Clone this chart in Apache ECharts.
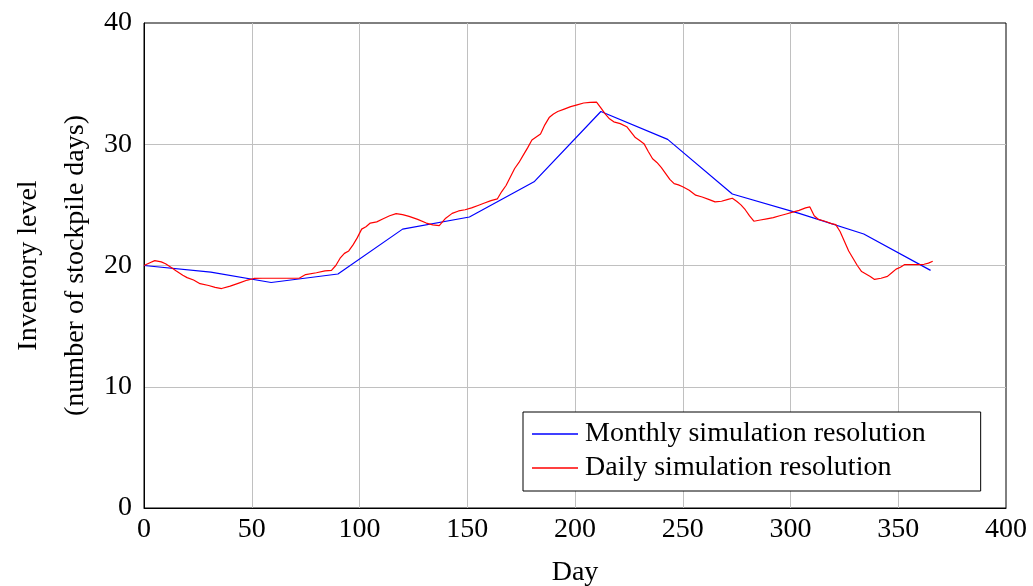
<!DOCTYPE html>
<html>
<head>
<meta charset="utf-8">
<script src="https://cdn.jsdelivr.net/npm/echarts@6/dist/echarts.min.js"></script>
<style>html,body{margin:0;padding:0;background:#fff}#c{width:1033px;height:586px}</style>
</head>
<body>
<div id="c"></div>
<script>
const monthlyDays = [0, 31, 59, 90, 120, 151, 181, 212, 243, 273, 304, 334, 365];
const monthlyVals = [20.0, 19.45, 18.6, 19.3, 23.0, 24.0, 26.9, 32.7, 30.4, 25.9, 24.3, 22.6, 19.6];

const dailyDays = [0,3,5,8,10,13,15,18,20,23,26,30,33,36,40,44,48,51,55,60,65,70,72,75,80,84,87,89,91,93,95,97,99,101,103,105,108,111,114,117,120,123,127,131,134,137,140,143,146,149,152,155,158,161,164,166,168,170,172,174,176,178,180,182,184,186,188,190,192,195,198,201,204,207,210,212,214,216,218,221,224,226,228,230,232,234,236,238,240,242,244,246,248,250,253,256,259,262,265,268,271,273,275,277,279,281,283,286,289,292,295,298,301,304,307,309,311,313,316,319,321,323,325,327,329,331,333,335,337,339,342,345,347,349,351,353,356,359,362,364,366];
const dailyVals = [20.0,20.25,20.4,20.3,20.15,19.8,19.55,19.2,19.0,18.8,18.5,18.35,18.2,18.1,18.3,18.55,18.8,18.93,18.95,18.95,18.95,18.95,18.95,19.25,19.4,19.55,19.6,20.0,20.6,21.0,21.2,21.7,22.3,23.0,23.2,23.5,23.6,23.85,24.1,24.28,24.2,24.05,23.8,23.5,23.35,23.29,23.9,24.3,24.5,24.6,24.75,24.95,25.15,25.35,25.5,26.1,26.6,27.3,28.0,28.5,29.1,29.7,30.35,30.6,30.85,31.6,32.2,32.5,32.7,32.9,33.1,33.25,33.4,33.45,33.47,33.0,32.5,32.1,31.85,31.7,31.45,31.0,30.55,30.3,30.05,29.4,28.8,28.5,28.1,27.6,27.1,26.75,26.65,26.5,26.2,25.8,25.65,25.45,25.25,25.3,25.45,25.55,25.3,25.0,24.6,24.1,23.65,23.75,23.85,23.95,24.1,24.25,24.4,24.55,24.75,24.83,24.1,23.8,23.65,23.45,23.37,22.8,22.0,21.2,20.6,20.0,19.5,19.3,19.1,18.85,18.95,19.1,19.4,19.7,19.85,20.08,20.08,20.08,20.1,20.2,20.35];

const seriesNames = ['Monthly simulation resolution', 'Daily simulation resolution'];
const xTitle = 'Day';
const yTitle = 'Inventory level\n(number of stockpile days)';

const FONT = 'Liberation Serif';
const FS = 28;
const chart = echarts.init(document.getElementById('c'), null, {renderer: 'canvas'});
chart.setOption({
  animation: false,
  backgroundColor: '#fff',
  grid: {left: 144, top: 23, right: 27, bottom: 78, containLabel: false, outerBoundsMode: 'none',
         show: true, borderColor: '#000', borderWidth: 1, backgroundColor: 'transparent'},
  xAxis: {
    type: 'value', min: 0, max: 400, interval: 50,
    name: xTitle, nameLocation: 'middle', nameGap: 51, nameMoveOverlap: false,
    nameTextStyle: {fontFamily: FONT, fontSize: FS, color: '#000'},
    axisLine: {show: true, lineStyle: {color: '#000', width: 1}},
    axisTick: {show: false},
    axisLabel: {fontFamily: FONT, fontSize: FS, color: '#000', margin: 8},
    splitLine: {show: true, showMinLine: false, showMaxLine: false, lineStyle: {color: '#c0c0c0', width: 1}}
  },
  yAxis: {
    type: 'value', min: 0, max: 40, interval: 10,
    name: yTitle, nameLocation: 'middle', nameGap: 45, nameRotate: 90, nameMoveOverlap: false,
    nameTextStyle: {fontFamily: FONT, fontSize: FS, color: '#000', lineHeight: 47, align: 'center'},
    axisLine: {show: true, lineStyle: {color: '#000', width: 1}},
    axisTick: {show: false},
    axisLabel: {fontFamily: FONT, fontSize: FS, color: '#000', margin: 12},
    splitLine: {show: true, showMinLine: false, showMaxLine: false, lineStyle: {color: '#c0c0c0', width: 1}}
  },
  legend: {
    orient: 'vertical',
    left: 523, top: 412,
    backgroundColor: '#fff',
    borderColor: '#000', borderWidth: 1, borderRadius: 0,
    padding: [8, 55, 9, 9],
    icon: 'rect',
    itemWidth: 46, itemHeight: 1.3, itemGap: 6,
    textStyle: {fontFamily: FONT, fontSize: FS, color: '#000', padding: [0,0,0,2], lineHeight: 28},
    data: seriesNames
  },
  series: [
    {
      name: seriesNames[0], type: 'line', symbol: 'none', showSymbol: false,
      lineStyle: {color: '#0000ff', width: 1.2}, itemStyle: {color: '#0000ff'},
      data: monthlyDays.map((d, i) => [d, monthlyVals[i]]), z: 3
    },
    {
      name: seriesNames[1], type: 'line', symbol: 'none', showSymbol: false,
      lineStyle: {color: '#ff0000', width: 1.2}, itemStyle: {color: '#ff0000'},
      data: dailyDays.map((d, i) => [d, dailyVals[i]]), z: 4
    }
  ]
});
</script>
</body>
</html>
